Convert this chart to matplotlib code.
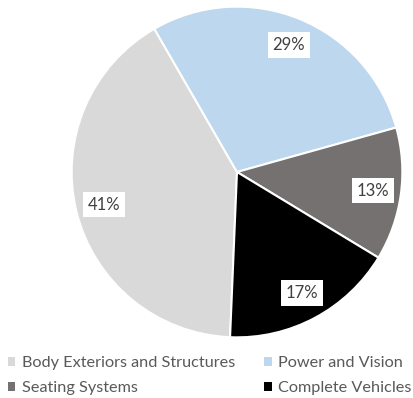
import matplotlib
matplotlib.use("Agg")
import matplotlib.pyplot as plt

categories = ["Body Exteriors and Structures", "Power and Vision",
              "Seating Systems", "Complete Vehicles"]
shares = [41, 29, 13, 17]
colors = ["#D9D9D9", "#BDD7EE", "#767171", "#000000"]

plt.rcParams["font.family"] = ["Lato", "DejaVu Sans"]

W, H = 413, 398
fig = plt.figure(figsize=(W / 100, H / 100), dpi=100)
cx, cy, r = 237, 172, 167
ax = fig.add_axes([(cx - r) / W, (H - cy - r) / H, 2 * r / W, 2 * r / H])

wedges, texts, autotexts = ax.pie(
    shares, colors=colors, startangle=-92.4, counterclock=False,
    autopct="%d%%", pctdistance=0.83,
    wedgeprops=dict(edgecolor="white", linewidth=1.5),
    textprops=dict(color="#404040", fontsize=12),
)
for t in autotexts:
    t.set_bbox(dict(facecolor="white", edgecolor="none",
                    boxstyle="square,pad=0.28"))
ax.set_xlim(-1.01, 1.01)
ax.set_ylim(-1.01, 1.01)
ax.set_aspect("equal")
ax.axis("off")

# legend filled row by row: two entries per row
order = [0, 2, 1, 3]
leg = fig.legend([wedges[i] for i in order], [categories[i] for i in order],
                 ncol=2, loc="upper left",
                 bbox_to_anchor=(8 / W, 1 - 356 / H), frameon=False,
                 fontsize=11.7, labelcolor="#595959",
                 handlelength=0.46, handleheight=0.46, handletextpad=0.4,
                 columnspacing=1.8, labelspacing=0.68, borderpad=0,
                 borderaxespad=0)
for h in leg.legend_handles:
    h.set_edgecolor("none")

fig.savefig("out.png", dpi=100)
